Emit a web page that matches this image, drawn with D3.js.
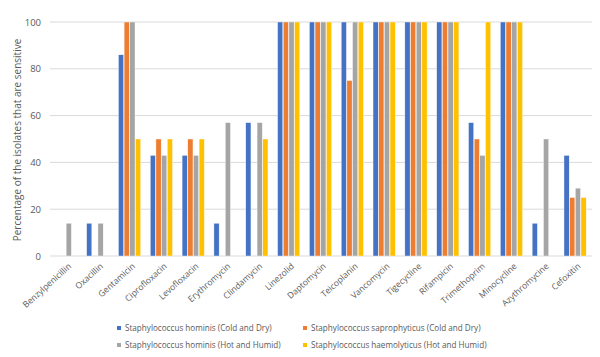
<!DOCTYPE html>
<html><head><meta charset="utf-8">
<script src="https://cdn.jsdelivr.net/npm/d3@7"></script>
<style>body{margin:0;background:#fff}svg{display:block}text{font-family:"Open Sans","Liberation Sans",sans-serif}</style>
</head><body><svg id="c" width="600" height="357"></svg>
<script>
const categories = ["Benzylpenicillin","Oxacillin","Gentamicin","Ciprofloxacin","Levofloxacin","Erythromycin","Clindamycin","Linezolid","Daptomycin","Teicoplanin","Vancomycin","Tigecycline","Rifampicin","Trimethoprim","Minocycline","Azythromycine","Cefoxitin"];
const seriesNames = ["Staphylococcus hominis (Cold and Dry)","Staphylococcus saprophyticus (Cold and Dry)","Staphylococcus hominis (Hot and Humid)","Staphylococcus haemolyticus (Hot and Humid)"];
const hominisCold = [0,14,86,43,43,14,57,100,100,100,100,100,100,57,100,14,43];
const saprophyticusCold = [0,0,100,50,50,0,0,100,100,75,100,100,100,50,100,0,25];
const hominisHot = [14,14,100,43,43,57,57,100,100,100,100,100,100,43,100,50,29];
const haemolyticusHot = [0,0,50,50,50,0,50,100,100,100,100,100,100,100,100,0,25];
const yTicks = [0,20,40,60,80,100];
const colors = ["#4472C4","#ED7D31","#A5A5A5","#FFC000"];
const seriesVals = [hominisCold, saprophyticusCold, hominisHot, haemolyticusHot];

const svg = d3.select("#c");
const x0 = d3.scaleBand().domain(categories).range([50, 591]).paddingInner(0).paddingOuter(0);
const x1 = d3.scaleBand().domain(d3.range(4)).range([4.8, x0.bandwidth()-4.8]).paddingInner(0.08);
const y = d3.scaleLinear().domain([0,100]).range([256, 22]);

// gridlines
svg.append("g").selectAll("line").data(yTicks).join("line")
  .attr("x1", 50).attr("x2", 592).attr("y1", d=>y(d)).attr("y2", d=>y(d))
  .attr("stroke", "#D9D9D9").attr("stroke-width", 1);

// y axis labels
const yAxis = d3.axisLeft(y).tickValues(yTicks).tickSize(0).tickPadding(9);
const ya = svg.append("g").attr("transform","translate(50,0)").call(yAxis);
ya.select(".domain").remove();
ya.selectAll("text").attr("fill","#595959").style("font-size","9.5px");

// bars
const groups = svg.append("g").selectAll("g").data(categories).join("g")
  .attr("transform", d=>`translate(${x0(d)},0)`);
groups.selectAll("rect").data((d,i)=>seriesVals.map((s,k)=>({k, v:s[i]}))).join("rect")
  .attr("x", d=>x1(d.k)).attr("width", x1.bandwidth())
  .attr("y", d=>y(d.v)).attr("height", d=>y(0)-y(d.v))
  .attr("fill", d=>colors[d.k])
  .attr("stroke","#fff").attr("stroke-width",0.4);

// x axis
const xAxis = d3.axisBottom(x0).tickSize(0).tickPadding(0);
const xa = svg.append("g").attr("transform","translate(0,256)").call(xAxis);
xa.select(".domain").remove();
xa.selectAll("text")
  .attr("fill","#595959").style("font-size","8.6px")
  .attr("text-anchor","end")
  .attr("dy","0")
  .attr("transform","translate(6,11) rotate(-42)");

// y title
svg.append("text").attr("transform","translate(21,140) rotate(-90)")
  .attr("text-anchor","middle").attr("fill","#595959").style("font-size","10px")
  .text("Percentage of the isolates that are sensitive");

// legend
const legPos = [[117,328],[303,328],[117,345],[303,345]];
const lg = svg.append("g").selectAll("g").data(seriesNames).join("g")
  .attr("transform",(d,i)=>`translate(${legPos[i][0]},${legPos[i][1]})`);
lg.append("rect").attr("x",0).attr("y",-2).attr("width",4).attr("height",4).attr("fill",(d,i)=>colors[i]);
const lt = lg.append("text").attr("x",8).attr("y",0).attr("dy","0.35em").attr("fill","#595959").style("font-size","10px").text(d=>d);
// fit legend font so first entry spans ~147px like the reference
const w0 = lt.node().getComputedTextLength();
lt.style("font-size", (10*147/w0).toFixed(2)+"px");
</script></body></html>
